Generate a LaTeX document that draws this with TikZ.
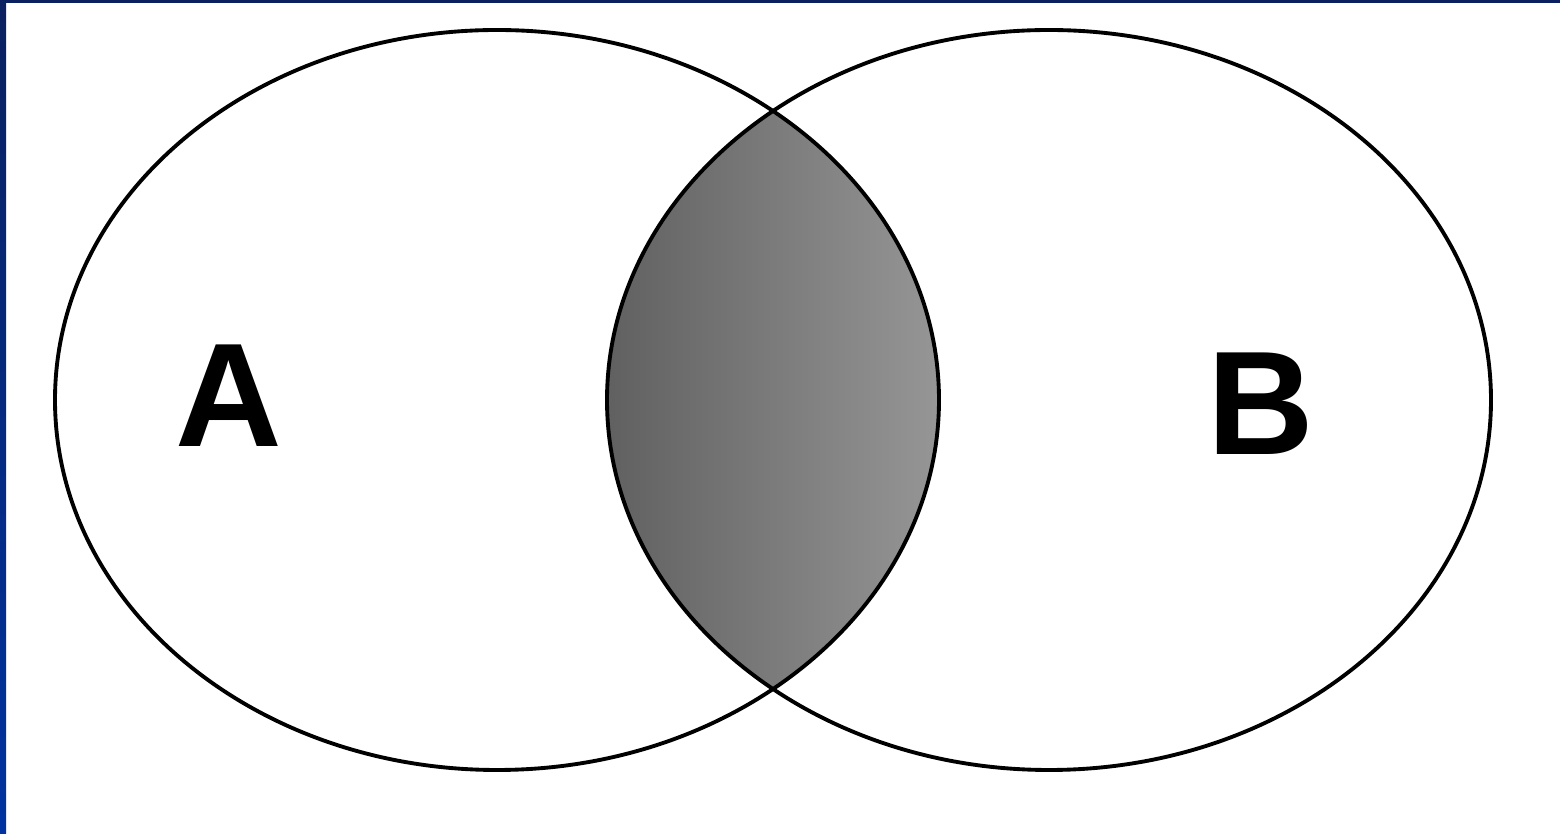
\documentclass[tikz,border=0pt]{standalone}
\usepackage{fontspec}
\setmainfont{Liberation Sans}
\definecolor{bartop}{RGB}{10,32,96}
\definecolor{barbot}{RGB}{0,51,160}
\definecolor{lensdark}{RGB}{96,96,96}
\definecolor{lenslight}{RGB}{150,150,150}
\begin{document}
\begin{tikzpicture}[x=0.01cm,y=-0.01cm,
  setline/.style={line width=1.1pt,draw=black},
  lbl/.style={font=\fontsize{42}{42}\selectfont\bfseries,inner sep=0pt}]
\useasboundingbox (0,0) rectangle (1560,834);
\fill[white] (0,0) rectangle (1560,834);
\shade[top color=bartop,bottom color=barbot] (0,0) rectangle (6,834);
\fill[bartop] (0,0) rectangle (1560,3);
\coordinate (ca) at (497,400);
\coordinate (cb) at (1049,400);
\begin{scope}
  \clip (ca) ellipse [x radius=442, y radius=370];
  \clip (cb) ellipse [x radius=442, y radius=370];
  \shade[left color=lensdark,right color=lenslight] (605,20) rectangle (941,780);
\end{scope}
\draw[setline] (ca) ellipse [x radius=442, y radius=370];
\draw[setline] (cb) ellipse [x radius=442, y radius=370];
\node[lbl,anchor=south] (A) at (229,447) {A};
\node[lbl,anchor=south] (B) at (1261,455) {B};
\end{tikzpicture}
\end{document}
